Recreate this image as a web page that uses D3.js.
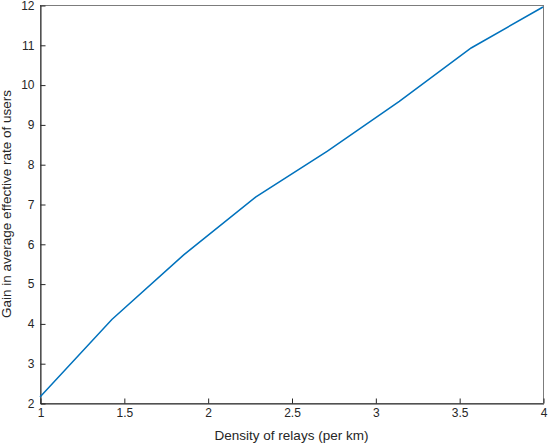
<!DOCTYPE html>
<html>
<head>
<meta charset="utf-8">
<script src="https://cdn.jsdelivr.net/npm/d3@7"></script>
<style>
  body { margin: 0; background: #fff; }
  text { font-family: "Liberation Sans", Arial, sans-serif; }
</style>
</head>
<body>
<div id="chart"></div>
<script>
// relay density (per km) and rate gain
const density = [1, 1.4286, 1.8571, 2.2857, 2.7143, 3.1429, 3.5714, 4];
const gain = [2.15, 4.1, 5.72, 7.17, 8.33, 9.58, 10.92, 11.95];
const xTicks = [1, 1.5, 2, 2.5, 3, 3.5, 4];
const yTicks = [2, 3, 4, 5, 6, 7, 8, 9, 10, 11, 12];

const width = 548, height = 446;
const margin = {top: 5, right: 5, bottom: 43, left: 40};

const svg = d3.select("#chart").append("svg")
    .attr("width", width)
    .attr("height", height);

const x = d3.scaleLinear([1, 4], [margin.left, width - margin.right]);
const y = d3.scaleLinear([2, 12], [height - margin.bottom, margin.top]);

// box
svg.append("rect")
    .attr("x", margin.left + 0.5)
    .attr("y", margin.top + 0.5)
    .attr("width", x(4) - x(1))
    .attr("height", y(2) - y(12))
    .attr("fill", "none")
    .attr("stroke", "#262626")
    .attr("stroke-width", 0.6);

svg.append("g")
    .attr("transform", `translate(0.5,${y(2) + 0.5})`)
    .call(d3.axisBottom(x).tickValues(xTicks).tickFormat(d3.format("")).tickSizeInner(-5).tickSizeOuter(0))
    .call(g => g.select(".domain").attr("stroke", "#262626"))
    .call(g => g.selectAll(".tick line").attr("stroke", "#262626"))
    .call(g => g.selectAll(".tick text").attr("dy", "0.9em").attr("font-size", 12).attr("fill", "#262626"));

svg.append("g")
    .attr("transform", `translate(${x(1) + 0.5},0.5)`)
    .call(d3.axisLeft(y).tickValues(yTicks).tickSizeInner(-5).tickSizeOuter(0))
    .call(g => g.select(".domain").attr("stroke", "#262626"))
    .call(g => g.selectAll(".tick line").attr("stroke", "#262626"))
    .call(g => g.selectAll(".tick text").attr("x", -6).attr("font-size", 12).attr("fill", "#262626"));

svg.append("path")
    .datum(density.map((d, i) => [d, gain[i]]))
    .attr("fill", "none")
    .attr("stroke", "#0072BD")
    .attr("stroke-width", 1.5)
    .attr("d", d3.line().x(d => x(d[0])).y(d => y(d[1])));

svg.append("text")
    .attr("x", (x(1) + x(4)) / 2)
    .attr("y", height - 6)
    .attr("text-anchor", "middle")
    .attr("font-size", 13.5)
    .attr("fill", "#262626")
    .text("Density of relays (per km)");

svg.append("text")
    .attr("transform", `translate(11,${(y(2) + y(12)) / 2}) rotate(-90)`)
    .attr("text-anchor", "middle")
    .attr("font-size", 13.5)
    .attr("fill", "#262626")
    .text("Gain in average effective rate of users");
</script>
</body>
</html>
